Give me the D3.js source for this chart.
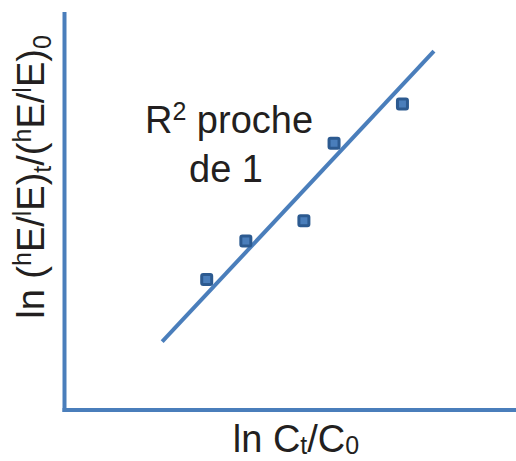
<!DOCTYPE html>
<html>
<head>
<meta charset="utf-8">
<script src="https://cdn.jsdelivr.net/npm/d3@7"></script>
<style>
  html, body { margin: 0; padding: 0; background: #fff; }
  svg { display: block; }
  text { font-family: "Liberation Sans", Arial, sans-serif; fill: #231f20; }
</style>
</head>
<body>
<svg id="chart" width="516" height="461"></svg>
<script>
// ---- data (arbitrary units, schematic chart) ----
const pointX = [3.16, 4.03, 5.32, 5.99, 7.51];
const pointY = [3.29, 4.26, 4.77, 6.72, 7.71];
const fitX = [2.17, 8.21];
const fitY = [1.72, 9.04];
const xAxisLabel = ["ln C", "t", "/C", "0"];
const annotation = ["R", "2", " proche", "de 1"];

(function () {
const mLeft = 64.5, mRight = 516, mTop = 12, mBottom = 410;
const blue = "#4a7ebb";
const FS = 38, SFS = 25;

const svg = d3.select("#chart");

const x = d3.scaleLinear().domain([0, 10]).range([mLeft, mLeft + 450]);
const y = d3.scaleLinear().domain([0, 10]).range([mBottom, mBottom - 397]);

// axes (no ticks)
const xAxis = d3.axisBottom(x).tickValues([]).tickSizeOuter(0);
const yAxis = d3.axisLeft(y).tickValues([]).tickSizeOuter(0);
const gx = svg.append("g").attr("transform", `translate(0,${mBottom})`).call(xAxis);
gx.select(".domain").attr("stroke", blue).attr("stroke-width", 4)
  .attr("d", `M${mLeft - 2},0H${mRight}`);
const gy = svg.append("g").attr("transform", `translate(${mLeft},0)`).call(yAxis);
gy.select(".domain").attr("stroke", blue).attr("stroke-width", 4)
  .attr("d", `M0,${mTop}V${mBottom + 2}`);

// fit line
const fit = fitX.map((v, i) => [v, fitY[i]]);
svg.append("path")
  .datum(fit)
  .attr("d", d3.line().x(d => x(d[0])).y(d => y(d[1])))
  .attr("stroke", blue).attr("stroke-width", 4).attr("fill", "none");

// points
const pts = pointX.map((v, i) => [v, pointY[i]]);
svg.selectAll("rect.pt").data(pts).enter().append("rect")
  .attr("class", "pt")
  .attr("x", d => x(d[0]) - 5).attr("y", d => y(d[1]) - 5)
  .attr("width", 10).attr("height", 10).attr("rx", 1.5)
  .attr("fill", "#4a7ebb").attr("stroke", "#2c5a90").attr("stroke-width", 3);

// annotation
const ann = svg.append("text").attr("font-size", FS).attr("text-anchor", "middle");
const l1 = ann.append("tspan").attr("x", 229).attr("y", 133);
l1.append("tspan").text(annotation[0]);
l1.append("tspan").attr("font-size", SFS).attr("dy", -13).text(annotation[1]);
l1.append("tspan").attr("dy", 13).text(annotation[2]);
ann.append("tspan").attr("x", 226).attr("y", 182).text(annotation[3]);

// x axis label
const xl = svg.append("text").attr("font-size", FS).attr("text-anchor", "middle")
  .attr("x", 296).attr("y", 452);
xl.append("tspan").text(xAxisLabel[0]);
xl.append("tspan").attr("font-size", SFS).attr("dy", 2).text(xAxisLabel[1]);
xl.append("tspan").attr("dy", -2).text(xAxisLabel[2]);
xl.append("tspan").attr("font-size", SFS).attr("dy", 2).text(xAxisLabel[3]);

// y axis label
const yl = svg.append("text").attr("font-size", FS).attr("text-anchor", "middle")
  .attr("transform", "translate(44,177) rotate(-90)");
const parts = [
  ["ln (", 0, FS], ["h", -13, SFS], ["E/", 13, FS], ["l", -13, SFS], ["E)", 13, FS],
  ["t", 7, SFS], ["/(", -7, FS], ["h", -13, SFS], ["E/", 13, FS], ["l", -13, SFS],
  ["E)", 13, FS], ["0", 7, SFS]
];
parts.forEach(p => {
  yl.append("tspan").attr("dy", p[1]).attr("font-size", p[2]).text(p[0]);
});
})();
</script>
</body>
</html>
